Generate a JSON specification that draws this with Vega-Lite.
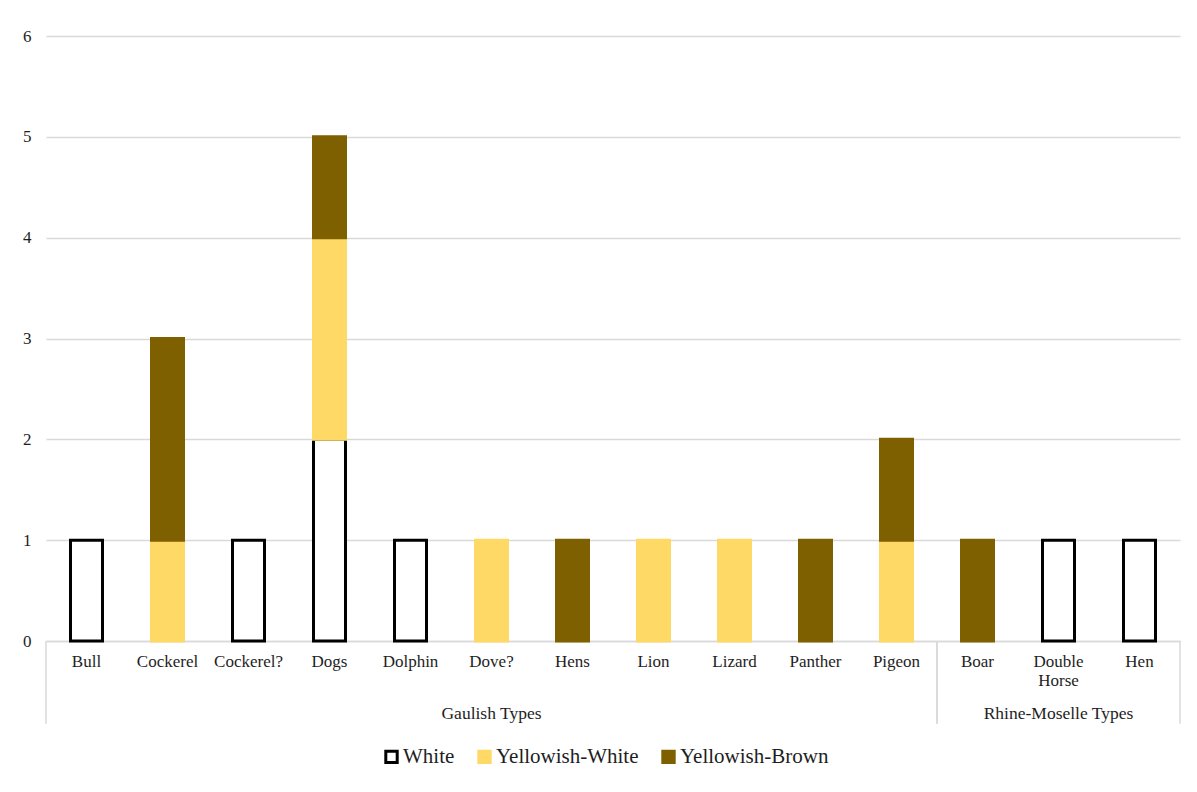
{
  "$schema": "https://vega.github.io/schema/vega-lite/v6.json",
  "autosize": "none",
  "width": 1134,
  "height": 605,
  "padding": {"left": 46, "top": 36, "right": 17, "bottom": 151},
  "background": "white",
  "config": {
    "font": "Liberation Serif",
    "view": {"stroke": null},
    "axis": {
      "labelFont": "Liberation Serif",
      "labelColor": "#1e1e1e",
      "labelFontSize": 17,
      "title": null
    },
    "legend": {
      "labelFont": "Liberation Serif",
      "labelColor": "#1e1e1e",
      "labelFontSize": 21
    }
  },
  "datasets": {
    "counts": [
      {"type": "Bull", "group": "Gaulish Types", "colour": "White", "count": 1},
      {"type": "Cockerel", "group": "Gaulish Types", "colour": "Yellowish-White", "count": 1},
      {"type": "Cockerel", "group": "Gaulish Types", "colour": "Yellowish-Brown", "count": 2},
      {"type": "Cockerel?", "group": "Gaulish Types", "colour": "White", "count": 1},
      {"type": "Dogs", "group": "Gaulish Types", "colour": "White", "count": 2},
      {"type": "Dogs", "group": "Gaulish Types", "colour": "Yellowish-White", "count": 2},
      {"type": "Dogs", "group": "Gaulish Types", "colour": "Yellowish-Brown", "count": 1},
      {"type": "Dolphin", "group": "Gaulish Types", "colour": "White", "count": 1},
      {"type": "Dove?", "group": "Gaulish Types", "colour": "Yellowish-White", "count": 1},
      {"type": "Hens", "group": "Gaulish Types", "colour": "Yellowish-Brown", "count": 1},
      {"type": "Lion", "group": "Gaulish Types", "colour": "Yellowish-White", "count": 1},
      {"type": "Lizard", "group": "Gaulish Types", "colour": "Yellowish-White", "count": 1},
      {"type": "Panther", "group": "Gaulish Types", "colour": "Yellowish-Brown", "count": 1},
      {"type": "Pigeon", "group": "Gaulish Types", "colour": "Yellowish-White", "count": 1},
      {"type": "Pigeon", "group": "Gaulish Types", "colour": "Yellowish-Brown", "count": 1},
      {"type": "Boar", "group": "Rhine-Moselle Types", "colour": "Yellowish-Brown", "count": 1},
      {"type": "Double Horse", "group": "Rhine-Moselle Types", "colour": "White", "count": 1},
      {"type": "Hen", "group": "Rhine-Moselle Types", "colour": "White", "count": 1}
    ],
    "groups": [
      {"group": "Gaulish Types", "first": "Bull", "middle": "Dove?", "last": "Pigeon"},
      {"group": "Rhine-Moselle Types", "first": "Boar", "middle": "Double Horse", "last": "Hen"}
    ]
  },
  "layer": [
    {
      "data": {"name": "counts"},
      "transform": [
        {"calculate": "indexof(['White', 'Yellowish-White', 'Yellowish-Brown'], datum.colour)", "as": "stack_rank"}
      ],
      "mark": {"type": "bar", "width": 32, "strokeWidth": 3},
      "encoding": {
        "x": {
          "field": "type",
          "type": "nominal",
          "scale": {
            "domain": ["Bull", "Cockerel", "Cockerel?", "Dogs", "Dolphin", "Dove?", "Hens", "Lion", "Lizard", "Panther", "Pigeon", "Boar", "Double Horse", "Hen"],
            "paddingInner": 0,
            "paddingOuter": 0
          },
          "axis": {
            "labelAngle": 0,
            "labelPadding": 12,
            "labelLineHeight": 19,
            "labelBaseline": "top",
            "labelExpr": "split(datum.label, ' ')",
            "ticks": false,
            "domain": true,
            "domainColor": "#d9d9d9",
            "domainWidth": 1.5,
            "grid": false
          }
        },
        "y": {
          "field": "count",
          "type": "quantitative",
          "stack": "zero",
          "scale": {"domain": [0, 6], "nice": false},
          "axis": {
            "values": [0, 1, 2, 3, 4, 5, 6],
            "format": "d",
            "grid": true,
            "gridColor": "#d9d9d9",
            "gridWidth": 1.5,
            "domain": false,
            "ticks": false,
            "labelPadding": 15
          }
        },
        "order": {"field": "stack_rank", "type": "quantitative"},
        "fill": {
          "field": "colour",
          "type": "nominal",
          "scale": {
            "domain": ["White", "Yellowish-White", "Yellowish-Brown"],
            "range": ["#ffffff", "#ffd966", "#7f6000"]
          },
          "legend": {
            "title": null,
            "orient": "none",
            "direction": "horizontal",
            "legendX": 335,
            "legendY": 710,
            "symbolType": "square",
            "symbolSize": 130,
            "symbolStrokeWidth": 3,
            "labelOffset": 1,
            "columnPadding": 17
          }
        },
        "stroke": {
          "field": "colour",
          "type": "nominal",
          "scale": {
            "domain": ["White", "Yellowish-White", "Yellowish-Brown"],
            "range": ["#000000", "#ffd966", "#7f6000"]
          },
          "legend": {
            "title": null,
            "orient": "none",
            "direction": "horizontal",
            "legendX": 335,
            "legendY": 710,
            "symbolType": "square",
            "symbolSize": 130,
            "symbolStrokeWidth": 3,
            "labelOffset": 1,
            "columnPadding": 17
          }
        }
      }
    },
    {
      "data": {"name": "groups"},
      "mark": {"type": "rule", "color": "#d9d9d9", "strokeWidth": 1.5},
      "encoding": {
        "x": {"field": "first", "type": "nominal", "bandPosition": 0},
        "y": {"datum": 0},
        "y2": {"datum": -0.82}
      }
    },
    {
      "data": {"name": "groups"},
      "mark": {"type": "rule", "color": "#d9d9d9", "strokeWidth": 1.5},
      "encoding": {
        "x": {"field": "last", "type": "nominal", "bandPosition": 1},
        "y": {"datum": 0},
        "y2": {"datum": -0.82}
      }
    },
    {
      "data": {"name": "groups"},
      "mark": {"type": "text", "font": "Liberation Serif", "fontSize": 17.5, "color": "#1e1e1e", "baseline": "middle", "align": "center"},
      "encoding": {
        "x": {"field": "middle", "type": "nominal"},
        "y": {"datum": -0.72},
        "text": {"field": "group"}
      }
    }
  ]
}
